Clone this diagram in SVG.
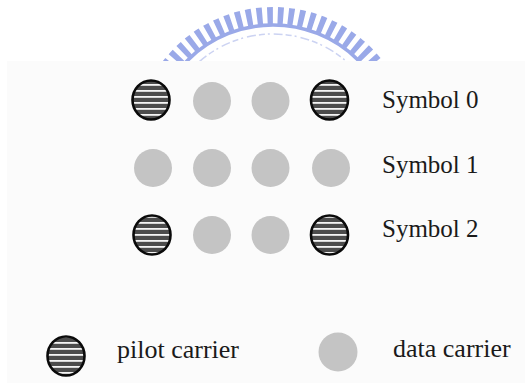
<svg xmlns="http://www.w3.org/2000/svg" width="525" height="383" viewBox="0 0 525 383">
  <defs>
    <pattern id="stripes" width="6" height="6" patternUnits="userSpaceOnUse">
      <rect width="6" height="6" fill="#4c4c4c"/>
      <rect y="0" width="6" height="1.8" fill="#f4f4f4"/>
    </pattern>
    <style>
      .pilot { fill: url(#stripes); stroke: #0a0a0a; stroke-width: 2.6; }
      .data { fill: #c4c4c4; }
      .label { font-size: 25px; fill: #1a1a1a; }
      .legend { font-size: 26px; }
      .seal { fill: none; stroke: #9aa9e8; }
    </style>
  </defs>

  <rect width="525" height="383" fill="#ffffff"/>

  <!-- faded seal at the top edge -->
  <g id="seal">
    <circle class="seal" cx="273" cy="146" r="130.5" stroke-width="17" stroke-dasharray="5.6 4.9"/>
    <circle class="seal" cx="273" cy="146" r="121" stroke-width="3.5"/>
    <circle cx="273" cy="146" r="112" fill="none" stroke="#ccd3f2" stroke-width="1.5" stroke-dasharray="6 3 2 4 9 3"/>
  </g>

  <!-- light panel holding the carrier layout -->
  <rect x="7" y="61" width="518" height="322" fill="#fbfbfb"/>

  <g id="connectors"/>

  <!-- symbol 0 -->
  <g id="s0c0"><ellipse class="pilot" cx="151" cy="100" rx="18.5" ry="19.5"/></g>
  <g id="s0c1"><circle class="data" cx="212" cy="101" r="19"/></g>
  <g id="s0c2"><circle class="data" cx="270.5" cy="101" r="19"/></g>
  <g id="s0c3"><ellipse class="pilot" cx="329.5" cy="100" rx="18.5" ry="19.5"/></g>

  <!-- symbol 1 -->
  <g id="s1c0"><circle class="data" cx="153" cy="168" r="19"/></g>
  <g id="s1c1"><circle class="data" cx="212" cy="168" r="19"/></g>
  <g id="s1c2"><circle class="data" cx="270.5" cy="168" r="19"/></g>
  <g id="s1c3"><circle class="data" cx="331" cy="168" r="19"/></g>

  <!-- symbol 2 -->
  <g id="s2c0"><ellipse class="pilot" cx="152" cy="235" rx="18.5" ry="19.5"/></g>
  <g id="s2c1"><circle class="data" cx="212" cy="235" r="19"/></g>
  <g id="s2c2"><circle class="data" cx="270.5" cy="235" r="19"/></g>
  <g id="s2c3"><ellipse class="pilot" cx="329.5" cy="235" rx="18.5" ry="19.5"/></g>

  <!-- row labels -->
  <g id="row-labels" font-family="'Liberation Serif', 'Times New Roman', serif">
    <text class="label" x="382" y="108">Symbol 0</text>
    <text class="label" x="382" y="173">Symbol 1</text>
    <text class="label" x="382" y="237">Symbol 2</text>
  </g>

  <!-- legend -->
  <g id="legend-pilot" font-family="'Liberation Serif', 'Times New Roman', serif">
    <ellipse class="pilot" cx="66" cy="356" rx="18.5" ry="19.5"/>
    <text class="label legend" x="117" y="358">pilot carrier</text>
  </g>
  <g id="legend-data" font-family="'Liberation Serif', 'Times New Roman', serif">
    <circle class="data" cx="338" cy="352" r="19.5"/>
    <text class="label legend" x="393" y="357">data carrier</text>
  </g>
</svg>
